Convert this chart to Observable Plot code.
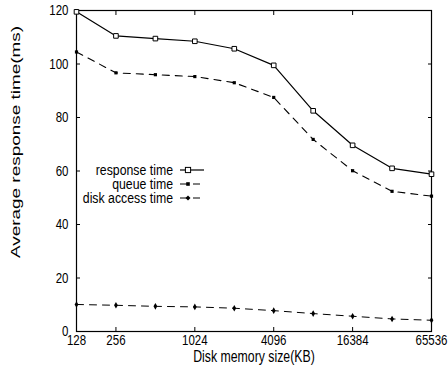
<!DOCTYPE html>
<html><head><meta charset="utf-8">
<script src="https://cdn.jsdelivr.net/npm/d3@7"></script>
<script src="https://cdn.jsdelivr.net/npm/@observablehq/plot@0.6"></script>
<style>body{margin:0;background:#fff}</style>
</head><body><div id="chart"></div>
<script>
const sizes = [128, 256, 512, 1024, 2048, 4096, 8192, 16384, 32768, 65536];
const responseTime = [119.5, 110.5, 109.5, 108.5, 105.7, 99.5, 82.5, 69.6, 61.0, 58.8];
const queueTime = [104.5, 96.7, 96.0, 95.3, 93.0, 87.5, 71.8, 60.1, 52.4, 50.6];
const diskTime = [10.1, 9.8, 9.4, 9.2, 8.7, 7.8, 6.7, 5.7, 4.7, 4.2];
const seriesNames = ["response time", "queue time", "disk access time"];
const xTicks = [128, 256, 1024, 4096, 16384, 65536];
const yTicks = [0, 20, 40, 60, 80, 100, 120];
const xLabel = "Disk memory size(KB)";
const yLabel = "Average response time(ms)";

const FONT = '"Liberation Sans",Arial,Helvetica,sans-serif';
const STRETCH = 1.3;
const rows = sizes.map((s, i) => ({size: s, response: responseTime[i], queue: queueTime[i], disk: diskTime[i]}));
const DASH = "7,6";

const plot = Plot.plot({
  width: 448, height: 370,
  marginLeft: 76, marginRight: 17, marginTop: 10, marginBottom: 39,
  style: {fontFamily: FONT, fontSize: "11.5px", color: "#000", background: "#fff"},
  x: {type: "log", base: 2, domain: [128, 65536]},
  y: {domain: [0, 120]},
  marks: [
    Plot.frame({stroke: "#000", strokeWidth: 1.2}),
    Plot.axisX({ticks: xTicks, tickSize: 0, tickPadding: 3, tickFormat: d => String(d), label: null}),
    Plot.axisX({ticks: xTicks, tickSize: -4, tickFormat: () => "", label: null}),
    Plot.axisX({anchor: "top", ticks: xTicks, tickSize: -4, tickFormat: () => "", label: null}),
    Plot.axisY({ticks: yTicks, tickSize: 0, tickPadding: 8, label: null}),
    Plot.axisY({ticks: yTicks, tickSize: -4, tickFormat: () => "", label: null}),
    Plot.axisY({anchor: "right", ticks: yTicks, tickSize: -4, tickFormat: () => "", label: null}),
    Plot.line(rows, {x: "size", y: "disk", stroke: "#000", strokeWidth: 1, strokeDasharray: DASH}),
    Plot.line(rows, {x: "size", y: "queue", stroke: "#000", strokeWidth: 1.1, strokeDasharray: DASH}),
    Plot.line(rows, {x: "size", y: "response", stroke: "#000", strokeWidth: 1.2}),
    Plot.dot(rows, {x: "size", y: "disk", symbol: "diamond", r: 2, fill: "#000", stroke: "none"}),
    Plot.dot(rows, {x: "size", y: "queue", symbol: "square", r: 1.8, fill: "#000", stroke: "none"}),
    Plot.dot(rows, {x: "size", y: "response", symbol: "square", r: 2.6, fill: "#fff", stroke: "#000", strokeWidth: 1})
  ]
});

const svg = d3.select(plot);
// stretch tick labels vertically like the scanned original
svg.selectAll('g[aria-label="x-axis tick label"] text, g[aria-label="y-axis tick label"] text')
  .each(function() {
    const t = this.getAttribute("transform") || "";
    this.setAttribute("transform", `${t} scale(1,${STRETCH})`);
  });

// axis titles
svg.append("text")
  .attr("transform", `translate(254,362) scale(1,${STRETCH})`)
  .attr("text-anchor", "middle")
  .attr("font-family", FONT).attr("font-size", 12.3).attr("fill", "#000")
  .text(xLabel);
svg.append("text")
  .attr("transform", "translate(16,142) rotate(-90)")
  .attr("text-anchor", "middle").attr("dominant-baseline", "central")
  .attr("font-family", FONT).attr("font-size", 12.5).attr("fill", "#000")
  .attr("textLength", 232).attr("lengthAdjust", "spacingAndGlyphs")
  .text(yLabel);

// legend
const leg = svg.append("g");
const legY = [170, 184, 198];
seriesNames.forEach((name, i) => {
  const y = legY[i];
  leg.append("text").attr("transform", `translate(173,${y + 4.5}) scale(1,1.15)`)
    .attr("text-anchor", "end").attr("font-family", FONT).attr("font-size", 12.3).attr("fill", "#000")
    .text(name);
  leg.append("line").attr("x1", 180).attr("x2", 204).attr("y1", y).attr("y2", y)
    .attr("stroke", "#000").attr("stroke-width", i === 0 ? 1.2 : 1)
    .attr("stroke-dasharray", i === 0 ? null : "7,6");
  if (i === 0) {
    leg.append("rect").attr("x", 185.4).attr("y", y - 2.6).attr("width", 5.2).attr("height", 5.2)
      .attr("fill", "#fff").attr("stroke", "#000");
  } else if (i === 1) {
    leg.append("rect").attr("x", 186.2).attr("y", y - 1.8).attr("width", 3.6).attr("height", 3.6).attr("fill", "#000");
  } else {
    leg.append("path").attr("d", `M188,${y - 2.5}L190.5,${y}L188,${y + 2.5}L185.5,${y}Z`).attr("fill", "#000");
  }
});

document.getElementById("chart").appendChild(plot);
</script>
</body></html>
